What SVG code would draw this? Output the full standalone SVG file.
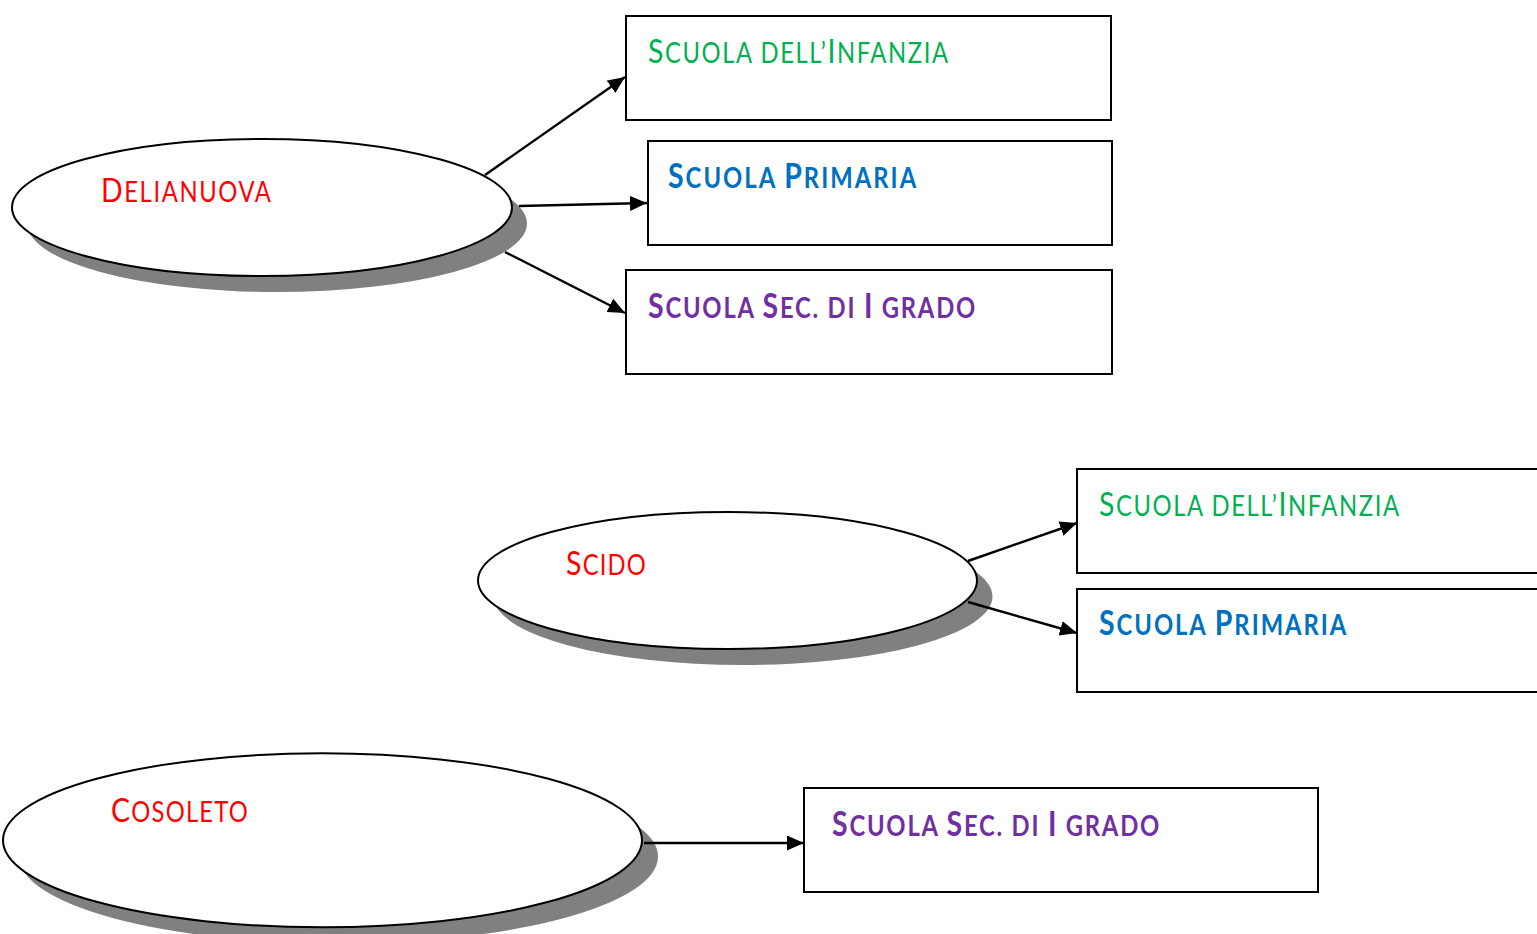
<svg xmlns="http://www.w3.org/2000/svg" width="1537" height="934" viewBox="0 0 1537 934">
<defs>
<marker id="ah" markerUnits="userSpaceOnUse" markerWidth="18" markerHeight="15" refX="17" refY="7.5" orient="auto">
<path d="M0,0 L17,7.5 L0,15 Z" fill="#000"/>
</marker>
<style>
.sh{fill:#808080;stroke:none}
.el{fill:#fff;stroke:#000;stroke-width:2}
.bx{fill:#fff;stroke:#000;stroke-width:2}
.cn{stroke:#000;stroke-width:2.4;fill:none;marker-end:url(#ah)}
text{font-family:Lato,"Open Sans","Liberation Sans",sans-serif;font-size:28px}
.c{font-size:33.5px}
.red{fill:#FF0000}
.grn{fill:#00B050}
.blu{fill:#0070C0;font-weight:bold}
.pur{fill:#7030A0;font-weight:bold}
</style>
</defs>
<rect width="1537" height="934" fill="#fff"/>
<g id="delianuova">
<ellipse class="sh" cx="277" cy="223.5" rx="250" ry="68.5"/>
<ellipse class="el" cx="262" cy="207.5" rx="250" ry="68.5"/>
<text class="red" transform="translate(101,202) scale(0.85,1)" x="0" y="0" textLength="200" lengthAdjust="spacing"><tspan class="c">D</tspan>ELIANUOVA</text>
</g>
<g id="scido">
<ellipse class="sh" cx="743" cy="596.5" rx="249.5" ry="68.5"/>
<ellipse class="el" cx="727.5" cy="580.5" rx="249.5" ry="68.5"/>
<text class="red" transform="translate(566,575) scale(0.85,1)" x="0" y="0" textLength="94" lengthAdjust="spacing"><tspan class="c">S</tspan>CIDO</text>
</g>
<g id="cosoleto">
<ellipse class="sh" cx="338.5" cy="856.5" rx="319.5" ry="87"/>
<ellipse class="el" cx="322.5" cy="840.3" rx="319.5" ry="87"/>
<text class="red" transform="translate(111,822) scale(0.85,1)" x="0" y="0" textLength="161" lengthAdjust="spacing"><tspan class="c">C</tspan>OSOLETO</text>
</g>
<g id="infanzia1">
<rect class="bx" x="626" y="16" width="485" height="104"/>
<text class="grn" transform="translate(648,63) scale(0.85,1)" x="0" y="0" textLength="353" lengthAdjust="spacing"><tspan class="c">S</tspan>CUOLA DELL’<tspan class="c">I</tspan>NFANZIA</text>
</g>
<g id="primaria1">
<rect class="bx" x="648" y="141" width="464" height="104"/>
<text class="blu" transform="translate(668,188) scale(0.85,1)" x="0" y="0" textLength="292" lengthAdjust="spacing"><tspan class="c">S</tspan>CUOLA <tspan class="c">P</tspan>RIMARIA</text>
</g>
<g id="secondaria1">
<rect class="bx" x="626" y="270" width="486" height="104"/>
<text class="pur" transform="translate(648,318) scale(0.85,1)" x="0" y="0" textLength="385" lengthAdjust="spacing"><tspan class="c">S</tspan>CUOLA <tspan class="c">S</tspan>EC. DI <tspan class="c">I</tspan> GRADO</text>
</g>
<g id="infanzia2">
<rect class="bx" x="1077" y="469" width="490" height="104"/>
<text class="grn" transform="translate(1099,516) scale(0.85,1)" x="0" y="0" textLength="353" lengthAdjust="spacing"><tspan class="c">S</tspan>CUOLA DELL’<tspan class="c">I</tspan>NFANZIA</text>
</g>
<g id="primaria2">
<rect class="bx" x="1077" y="589" width="490" height="103"/>
<text class="blu" transform="translate(1099,635) scale(0.85,1)" x="0" y="0" textLength="291" lengthAdjust="spacing"><tspan class="c">S</tspan>CUOLA <tspan class="c">P</tspan>RIMARIA</text>
</g>
<g id="secondaria2">
<rect class="bx" x="804" y="788" width="514" height="104"/>
<text class="pur" transform="translate(832,836) scale(0.85,1)" x="0" y="0" textLength="385" lengthAdjust="spacing"><tspan class="c">S</tspan>CUOLA <tspan class="c">S</tspan>EC. DI <tspan class="c">I</tspan> GRADO</text>
</g>
<g id="connectors">
<line class="cn" x1="485" y1="175" x2="625" y2="77"/>
<line class="cn" x1="519" y1="206" x2="647" y2="203"/>
<line class="cn" x1="505" y1="252" x2="625" y2="313"/>
<line class="cn" x1="968" y1="561" x2="1077" y2="523"/>
<line class="cn" x1="968" y1="602" x2="1077" y2="633"/>
<line class="cn" x1="644" y1="843" x2="804" y2="843"/>
</g>
</svg>
